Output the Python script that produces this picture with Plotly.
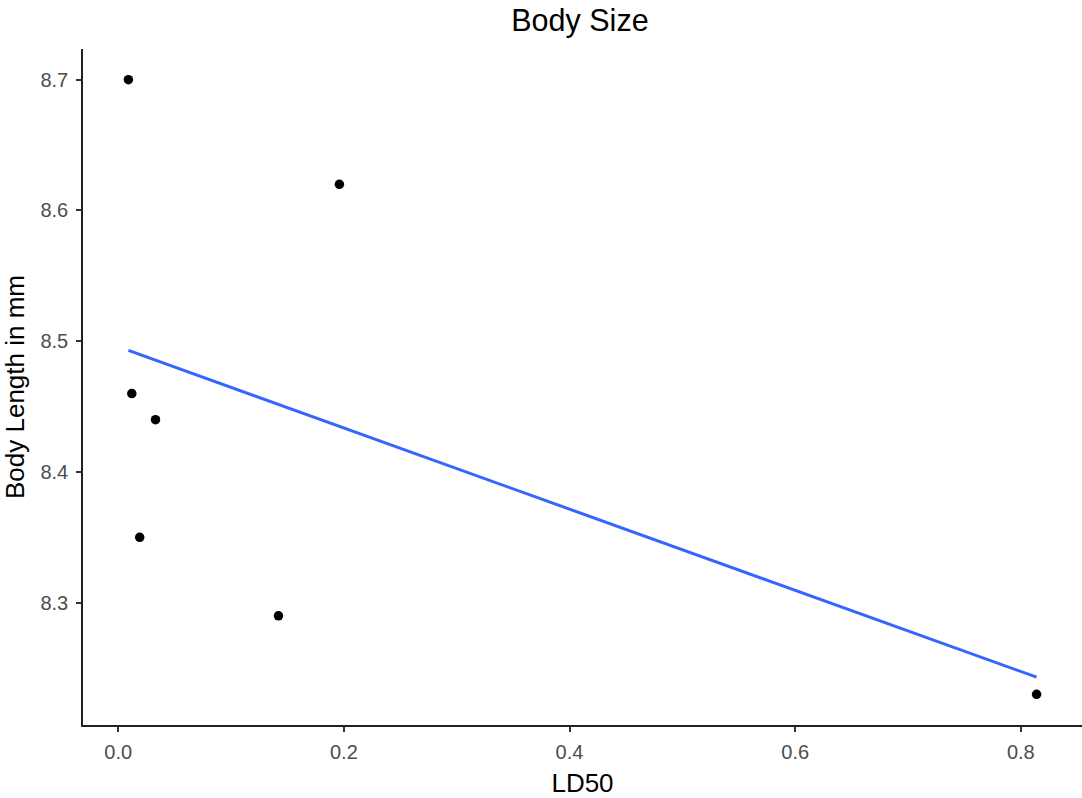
import numpy as np
import plotly.graph_objects as go

ld50 = [0.009, 0.196, 0.012, 0.033, 0.019, 0.142, 0.814]
body_length = [8.70, 8.62, 8.46, 8.44, 8.35, 8.29, 8.23]
x_ticks = [0.0, 0.2, 0.4, 0.6, 0.8]
y_ticks = [8.3, 8.4, 8.5, 8.6, 8.7]

# linear fit (geom_smooth method = "lm")
slope, intercept = np.polyfit(ld50, body_length, 1)
fit_x = np.linspace(min(ld50), max(ld50), 80)
fit_y = slope * fit_x + intercept

fig = go.Figure()
fig.add_trace(go.Scatter(x=fit_x, y=fit_y, mode="lines",
                         line=dict(color="#3366FF", width=3), showlegend=False,
                         hoverinfo="skip"))
fig.add_trace(go.Scatter(x=ld50, y=body_length, mode="markers",
                         marker=dict(color="black", size=9.5), showlegend=False))

xr = max(ld50) - min(ld50)
yr = max(body_length) - min(body_length)
fig.update_layout(
    width=1082, height=798,
    margin=dict(l=83, r=0, t=49, b=73),
    paper_bgcolor="white", plot_bgcolor="white",
    font=dict(family="Liberation Sans, Arial, sans-serif", color="black"),
    title=dict(text="Body Size", x=0.536, xanchor="center", y=0.975, yanchor="middle",
               font=dict(size=30.5, color="black")),
    xaxis=dict(range=[min(ld50) - 0.05 * xr, max(ld50) + 0.05 * xr],
               tickvals=x_ticks, ticktext=["0.0", "0.2", "0.4", "0.6", "0.8"],
               showgrid=False, zeroline=False, showline=True, linecolor="#222222",
               linewidth=1.5, ticks="outside", ticklen=5, tickcolor="#333333",
               tickwidth=1.5, tickfont=dict(size=20, color="#4D4D4D"),
               ticklabelstandoff=3,
               title=dict(text="LD50", font=dict(size=26, color="black"), standoff=12)),
    yaxis=dict(range=[min(body_length) - 0.05 * yr, max(body_length) + 0.05 * yr],
               tickvals=y_ticks, ticktext=["8.3", "8.4", "8.5", "8.6", "8.7"],
               showgrid=False, zeroline=False, showline=True, linecolor="#222222",
               linewidth=1.5, ticks="outside", ticklen=5, tickcolor="#333333",
               tickwidth=1.5, tickfont=dict(size=20, color="#4D4D4D"),
               ticklabelstandoff=4,
               title=dict(text="Body Length in mm", font=dict(size=26, color="black"), standoff=9)),
)
fig.write_html("out.html")
